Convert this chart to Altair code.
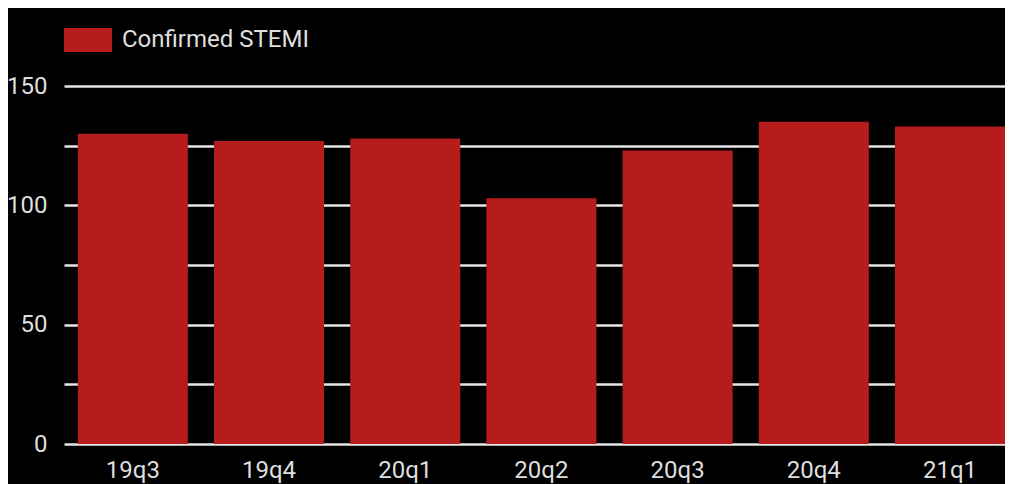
import altair as alt
import pandas as pd

quarters = ["19q3", "19q4", "20q1", "20q2", "20q3", "20q4", "21q1"]
stemi = [130, 127, 128, 103, 123, 135, 133]
series_name = "Confirmed STEMI"

df = pd.DataFrame({"quarter": quarters, "value": stemi, "series": [series_name] * len(quarters)})

FONT = "Roboto"
LABEL = "#dedede"

chart = (
    alt.Chart(df)
    .mark_bar(color="#b71c1c")
    .encode(
        x=alt.X(
            "quarter:N",
            sort=quarters,
            title=None,
            scale=alt.Scale(paddingInner=0.192, paddingOuter=0.0507, align=1),
            axis=alt.Axis(
                labelAngle=0,
                ticks=False,
                domain=False,
                grid=False,
                labelFont=FONT,
                labelFontSize=24,
                labelColor=LABEL,
                labelPadding=14,
            ),
        ),
        y=alt.Y(
            "value:Q",
            title=None,
            scale=alt.Scale(domain=[0, 150], nice=False),
            axis=alt.Axis(
                values=[0, 25, 50, 75, 100, 125, 150],
                labelExpr="datum.value % 50 == 0 ? datum.label : ''",
                ticks=False,
                domain=False,
                grid=True,
                gridColor="#e6e6e6",
                gridWidth=2.5,
                labelFont=FONT,
                labelFontSize=24,
                labelColor=LABEL,
                labelPadding=17,
            ),
        ),
        fill=alt.Fill(
            "series:N",
            scale=alt.Scale(domain=[series_name], range=["#b71c1c"]),
            legend=alt.Legend(
                title=None,
                orient="none",
                legendX=0,
                legendY=-70,
                padding=0,
                symbolType="M-1,-0.5H1V0.5H-1Z",
                symbolSize=2304,
                symbolStrokeWidth=0,
                symbolOpacity=1,
                labelFont=FONT,
                labelFontSize=24,
                labelColor=LABEL,
                labelOffset=10,
                labelLimit=0,
            ),
        ),
    )
    .properties(
        width=941,
        height=358,
        background="#000000",
        autosize=alt.AutoSizeParams(type="none"),
        padding={"left": 56, "top": 78, "right": 0, "bottom": 40},
    )
    .configure_view(stroke=None)
)

chart.save("out.html", embed_options={"renderer": "svg", "actions": False})
